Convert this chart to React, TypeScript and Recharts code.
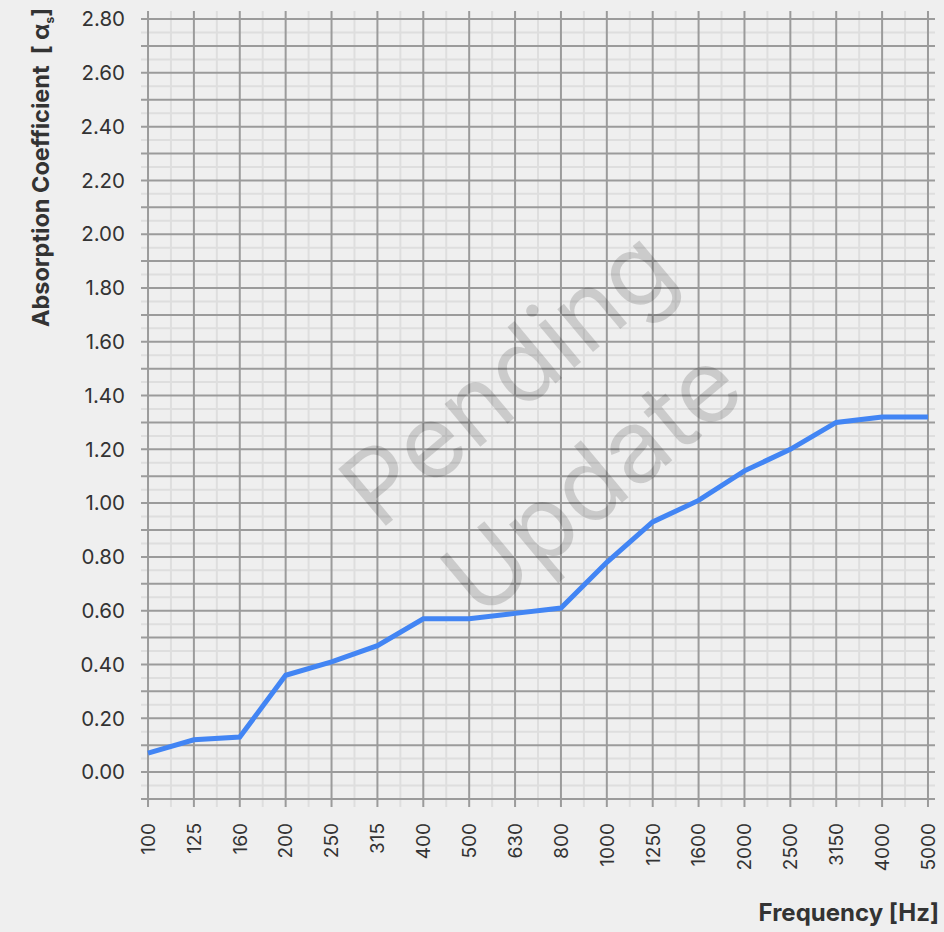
import React from "react";
import {
  LineChart,
  Line,
  XAxis,
  YAxis,
  CartesianGrid,
  Label,
} from "recharts";

const FREQUENCIES = [
  "100", "125", "160", "200", "250", "315", "400", "500", "630",
  "800", "1000", "1250", "1600", "2000", "2500", "3150", "4000", "5000",
];

const ABSORPTION = [
  0.07, 0.12, 0.13, 0.36, 0.41, 0.47, 0.57, 0.57, 0.59,
  0.61, 0.78, 0.93, 1.01, 1.12, 1.2, 1.3, 1.32, 1.32,
];

const Y_TICKS = [0, 0.2, 0.4, 0.6, 0.8, 1.0, 1.2, 1.4, 1.6, 1.8, 2.0, 2.2, 2.4, 2.6, 2.8];

const data = FREQUENCIES.map((freq, i) => ({ idx: i, freq, value: ABSORPTION[i] }));

// grid: dark lines every 0.1 / every band, light lines halfway between
const yMajor = Array.from({ length: 30 }, (_, i) => +(-0.1 + i * 0.1).toFixed(2));
const yMinor = Array.from({ length: 29 }, (_, i) => +(-0.05 + i * 0.1).toFixed(2));
const xMajor = FREQUENCIES.map((_, i) => i);
const xMinor = FREQUENCIES.slice(1).map((_, i) => i + 0.5);

const FONT = "Inter, 'Noto Sans', sans-serif";

const FreqTick = (props: any) => {
  const { x, y, payload } = props;
  return (
    <text
      x={x}
      y={y}
      transform={`rotate(-90, ${x}, ${y})`}
      textAnchor="end"
      dy="0.36em"
      fontSize={19}
      fontFamily={FONT}
      fill="#333"
    >
      {FREQUENCIES[payload.value]}
    </text>
  );
};

const YTitle = () => (
  <text
    x={49}
    y={8}
    transform="rotate(-90, 49, 8)"
    textAnchor="end"
    fontSize={23.5}
    fontWeight={700}
    fontFamily={FONT}
    fill="#333"
  >
    Absorption Coefficient{"\u00a0\u00a0"}[ α<tspan fontSize={12} dy={5}>s</tspan>
    <tspan dy={-5}>]</tspan>
  </text>
);

const XTitle = () => (
  <text
    x={939}
    y={921}
    textAnchor="end"
    fontSize={24}
    fontWeight={700}
    fontFamily={FONT}
    fill="#333"
  >
    Frequency [Hz]
  </text>
);

const Watermark = () => (
  <g
    transform="translate(543, 420) rotate(-40)"
    fontFamily={FONT}
    fontSize={102}
    fill="#000"
    fillOpacity={0.15}
    textAnchor="middle"
  >
    <text x={0} y={-20}>Pending</text>
    <text x={-2} y={114}>Update</text>
  </g>
);

export default function App() {
  return (
    <div
      style={{
        position: "absolute",
        left: 0,
        top: 0,
        width: 944,
        height: 932,
        background: "#efefef",
      }}
    >
      <LineChart
        width={944}
        height={932}
        data={data}
        margin={{ top: 11, right: 9, bottom: 0, left: 0 }}
      >
        <CartesianGrid
          stroke="#dedede"
          strokeWidth={2}
          horizontalValues={yMinor}
          verticalValues={xMinor}
        />
        <CartesianGrid
          stroke="#9b9b9b"
          strokeWidth={2}
          horizontalValues={yMajor}
          verticalValues={xMajor}
        />
        <XAxis
          dataKey="idx"
          type="number"
          domain={[-0.153, 17.153]}
          ticks={xMajor}
          interval={0}
          height={125}
          axisLine={false}
          tickLine={false}
          tickSize={0}
          tickMargin={16}
          tick={<FreqTick />}
        >
          <Label content={<XTitle />} />
        </XAxis>
        <YAxis
          type="number"
          domain={[-0.13, 2.83]}
          ticks={Y_TICKS}
          width={141}
          axisLine={false}
          tickLine={false}
          tickSize={0}
          tickMargin={16}
          tickFormatter={(v: number) => v.toFixed(2)}
          tick={{ fontSize: 20.5, fontFamily: FONT, fill: "#333" }}
        >
          <Label content={<YTitle />} />
        </YAxis>
        <Watermark />
        <Line
          type="linear"
          dataKey="value"
          stroke="#4285f4"
          strokeWidth={5}
          dot={false}
          isAnimationActive={false}
        />
      </LineChart>
    </div>
  );
}
